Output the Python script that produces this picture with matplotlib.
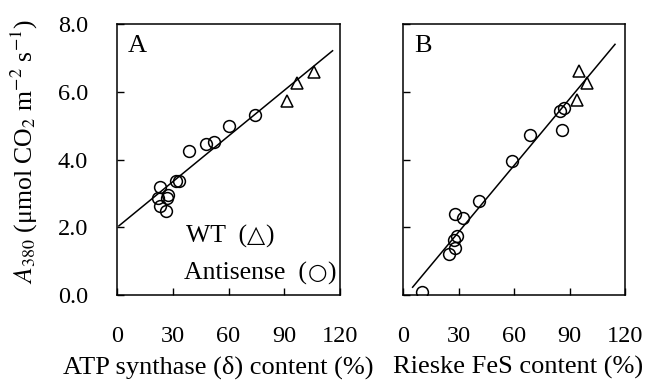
import matplotlib
matplotlib.use('Agg')
import matplotlib.pyplot as plt
from matplotlib.transforms import IdentityTransform

# Panel A: ATP synthase (delta) content vs A380
atp_anti_x = [22.9, 22.3, 27.2, 26.9, 23.2, 26.5, 31.5, 33.2, 38.6, 48.1, 52.1, 60.5, 74.2]
atp_anti_y = [3.19, 2.87, 2.94, 2.85, 2.63, 2.48, 3.36, 3.36, 4.26, 4.47, 4.52, 4.99, 5.32]
atp_wt_x = [91.7, 96.6, 105.8]
atp_wt_y = [5.74, 6.27, 6.59]
atp_fit_x = [1.0, 116.0]
atp_fit_y = [2.04, 7.21]

# Panel B: Rieske FeS content vs A380
fes_anti_x = [10.3, 25.0, 28.1, 27.4, 29.2, 28.1, 32.3, 41.3, 58.7, 68.8, 85.0, 86.8, 85.8]
fes_anti_y = [0.08, 1.21, 1.38, 1.63, 1.75, 2.38, 2.28, 2.77, 3.97, 4.72, 5.42, 5.52, 4.88]
fes_wt_x = [95.3, 99.5, 94.1]
fes_wt_y = [6.60, 6.27, 5.76]
fes_fit_x = [5.2, 114.6]
fes_fit_y = [0.23, 7.40]

x_ticks = [0, 30, 60, 90, 120]
y_ticks = [0.0, 2.0, 4.0, 6.0, 8.0]

plt.rcParams['font.family'] = ['Liberation Serif', 'DejaVu Sans']
plt.rcParams['mathtext.fontset'] = 'stix'
plt.rcParams['font.size'] = 17.5
plt.rcParams['xtick.direction'] = 'in'
plt.rcParams['ytick.direction'] = 'in'
plt.rcParams['xtick.major.pad'] = 22
plt.rcParams['ytick.major.pad'] = 21

fig = plt.figure(figsize=(6.48, 3.83), dpi=100)
ax_a = fig.add_axes([117 / 648, 1 - 295 / 383, 223 / 648, 271 / 383])
ax_b = fig.add_axes([403 / 648, 1 - 295 / 383, 222 / 648, 271 / 383])


def draw_panel(ax, ax_x, ay, wx, wy, fx, fy, letter, xlabel):
    ax.plot(fx, fy, color='black', lw=1.1, zorder=1)
    ax.plot(ax_x, ay, 'o', ms=8.5, mfc='none', mec='black', mew=1.1, zorder=2)
    ax.plot(wx, wy, '^', ms=9, mfc='none', mec='black', mew=1.1, zorder=2)
    ax.set_xlim(0, 120)
    ax.set_ylim(0, 8)
    ax.set_xticks(x_ticks)
    ax.set_yticks(y_ticks)
    ax.tick_params(length=5, width=1, top=False, right=False)
    for s in ax.spines.values():
        s.set_linewidth(1.1)
    ax.text(0.05, 0.898, letter, transform=ax.transAxes, va='baseline', ha='left', fontsize=19)
    ax.set_xlabel(xlabel, fontsize=19)


draw_panel(ax_a, atp_anti_x, atp_anti_y, atp_wt_x, atp_wt_y, atp_fit_x, atp_fit_y,
           'A', 'ATP synthase (δ) content (%)')
draw_panel(ax_b, fes_anti_x, fes_anti_y, fes_wt_x, fes_wt_y, fes_fit_x, fes_fit_y,
           'B', 'Rieske FeS content (%)')

ax_a.set_yticklabels(['%.1f' % v for v in y_ticks])
ax_b.set_yticklabels([])
ax_a.tick_params(axis='y', pad=21)
ax_a.set_ylabel(r'$A_{380}$ (μmol CO$_2$ m$^{-2}$ s$^{-1}$)', fontsize=18.5)
ax_a.yaxis.set_label_coords(-0.345, 0.53)
ax_a.xaxis.set_label_coords(0.453, -0.225)
ax_b.xaxis.set_label_coords(0.52, -0.225)


# legend text built from pieces so the symbols use a sans font
def text_run(ax, x, y, parts):
    r = fig.canvas.get_renderer()
    x0, y0 = ax.transData.transform((x, y))
    for s, fam, size in parts:
        t = ax.text(x0, y0, s, transform=IdentityTransform(), va='baseline', ha='left',
                    family=fam, fontsize=size)
        x0 = t.get_window_extent(renderer=r).x1


text_run(ax_a, 37, 1.56, [('WT  (', 'Liberation Serif', 18.5), ('△', 'DejaVu Sans', 17),
                          (')', 'Liberation Serif', 18.5)])
text_run(ax_a, 36.3, 0.47, [('Antisense  (', 'Liberation Serif', 18.5), ('○', 'DejaVu Sans', 16),
                            (')', 'Liberation Serif', 18.5)])

fig.savefig('out.png', dpi=100)
